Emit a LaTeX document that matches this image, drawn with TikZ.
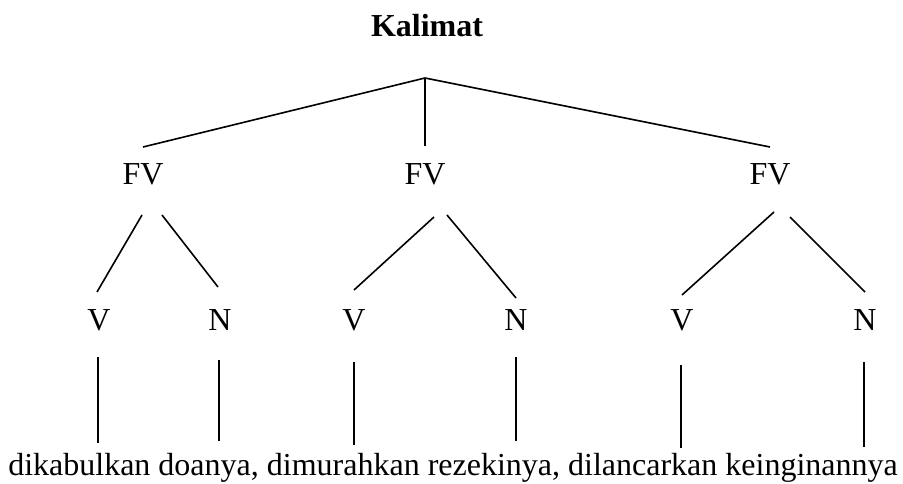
\documentclass[tikz,border=0pt]{standalone}
\usepackage{fontspec}
\setmainfont{Liberation Serif}
\begin{document}
\begin{tikzpicture}[x=1pt,y=-1pt,
  lbl/.style={anchor=base,inner sep=0pt,font=\fontsize{32}{38}\selectfont},
  edge/.style={draw=black,line width=1.6pt}]
\useasboundingbox (0,0) rectangle (903,484);
% labels
\node[lbl,font=\fontsize{32}{38}\selectfont\bfseries] (k) at (427,37) {Kalimat};
\node[lbl] (fv1) at (143,185) {FV};
\node[lbl] (fv2) at (425,185) {FV};
\node[lbl] (fv3) at (770,185) {FV};
\node[lbl] (v1) at (99,330) {V};
\node[lbl] (n1) at (220,330) {N};
\node[lbl] (v2) at (354,330) {V};
\node[lbl] (n2) at (516,330) {N};
\node[lbl] (v3) at (682,330) {V};
\node[lbl] (n3) at (865,330) {N};
\node[lbl] (txt) at (453,475) {dikabulkan doanya, dimurahkan rezekinya, dilancarkan keinginannya};
% connector end points
\coordinate (apex) at (425,78);
\coordinate (a1) at (143,147);
\coordinate (a2) at (425,146);
\coordinate (a3) at (770,147);
\coordinate (f1l) at (142,215); \coordinate (v1t) at (97,292);
\coordinate (f1r) at (162,215); \coordinate (n1t) at (218,287);
\coordinate (f2l) at (434,217); \coordinate (v2t) at (354,290);
\coordinate (f2r) at (447,215); \coordinate (n2t) at (516,298);
\coordinate (f3l) at (774,212); \coordinate (v3t) at (682,295);
\coordinate (f3r) at (790,217); \coordinate (n3t) at (865,292);
\coordinate (v1b) at (98,357);  \coordinate (v1e) at (98,443);
\coordinate (n1b) at (219,360); \coordinate (n1e) at (219,441);
\coordinate (v2b) at (354,362); \coordinate (v2e) at (354,445);
\coordinate (n2b) at (516,357); \coordinate (n2e) at (516,441);
\coordinate (v3b) at (681,365); \coordinate (v3e) at (681,448);
\coordinate (n3b) at (864,362); \coordinate (n3e) at (864,447);
% connectors
\draw[edge] (apex) -- (a1);
\draw[edge] (apex) -- (a2);
\draw[edge] (apex) -- (a3);
\draw[edge] (f1l) -- (v1t);
\draw[edge] (f1r) -- (n1t);
\draw[edge] (f2l) -- (v2t);
\draw[edge] (f2r) -- (n2t);
\draw[edge] (f3l) -- (v3t);
\draw[edge] (f3r) -- (n3t);
\draw[edge] (v1b) -- (v1e);
\draw[edge] (n1b) -- (n1e);
\draw[edge] (v2b) -- (v2e);
\draw[edge] (n2b) -- (n2e);
\draw[edge] (v3b) -- (v3e);
\draw[edge] (n3b) -- (n3e);
\end{tikzpicture}
\end{document}
